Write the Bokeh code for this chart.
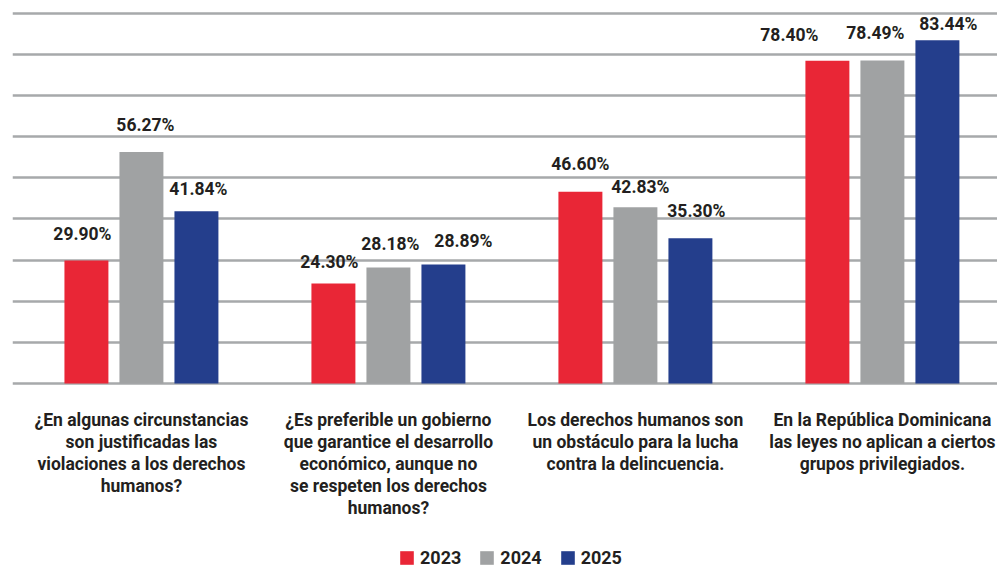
from bokeh.plotting import figure
from bokeh.models import (ColumnDataSource, Range1d, FixedTicker, Legend, LegendItem)
from bokeh.transform import dodge
from bokeh.core.properties import value
from bokeh.embed import file_html
from bokeh.resources import INLINE

# ---- data ----
categories = [
    "¿En algunas circunstancias\nson justificadas las\nviolaciones a los derechos\nhumanos?",
    "¿Es preferible un gobierno\nque garantice el desarrollo\neconómico, aunque no\nse respeten los derechos\nhumanos?",
    "Los derechos humanos son\nun obstáculo para la lucha\ncontra la delincuencia.",
    "En la República Dominicana\nlas leyes no aplican a ciertos\ngrupos privilegiados.",
]
years = ["2023", "2024", "2025"]
v2023 = [29.90, 24.30, 46.60, 78.40]
v2024 = [56.27, 28.18, 42.83, 78.49]
v2025 = [41.84, 28.89, 35.30, 83.44]
grid_ticks = [0, 10, 20, 30, 40, 50, 60, 70, 80, 90]

# ---- style ----
colors = ["#E92636", "#A0A2A3", "#243E8C"]
series = [v2023, v2024, v2025]
offsets = [-0.2227, 0.0, 0.2227]
# pixel nudges of the value labels (placement only)
label_dx = [[-4, -4, 0, -38], [4, 2, 5, -7], [2, 20, 6, 11]]
label_dy = [[-2, 3, -4, -2], [-3, 0, 4, -3], [2, 0, -3, 8]]
TXT = "#231F20"
FONT = "Roboto"

p = figure(width=997, height=568, output_backend="svg", toolbar_location=None,
           x_range=Range1d(-0.522, 3.466), y_range=Range1d(-44.96, 93.07),
           min_border_left=12, min_border_right=0, min_border_top=0, min_border_bottom=0)
p.outline_line_color = None
p.xgrid.visible = False
p.ygrid.ticker = FixedTicker(ticks=grid_ticks)
p.ygrid.grid_line_color = "#A7A9AB"
p.ygrid.grid_line_width = 2.4
p.yaxis.visible = False
p.xaxis.visible = False

xs = list(range(len(categories)))
items = []
for yr, vals, col, off, dx, dy in zip(years, series, colors, offsets, label_dx, label_dy):
    src = ColumnDataSource(dict(x=xs, top=vals, lab=[f"{v:.2f}%" for v in vals],
                                dx=dx, dy=[d - 24 for d in dy]))
    r = p.vbar(x=dodge("x", off, range=p.x_range), top="top", width=0.178, source=src,
               fill_color=col, line_color=None)
    p.text(x=dodge("x", off, range=p.x_range), y="top", text="lab", source=src,
           x_offset="dx", y_offset="dy", text_align="center", text_baseline="alphabetic",
           text_font=value(FONT), text_font_style="bold", text_font_size="17.5px", text_color=TXT)
    items.append(LegendItem(label=yr, renderers=[r]))

# category labels under the baseline
csrc = ColumnDataSource(dict(x=xs, y=[0] * len(xs), t=categories))
p.text(x="x", y="y", text="t", source=csrc, y_offset=27, text_align="center",
       text_baseline="top", text_font=value(FONT), text_font_style="bold",
       text_font_size="17.5px", text_line_height=1.1, text_color=TXT)

legend = Legend(items=items, orientation="horizontal", location=(386, 0),
                glyph_width=17, glyph_height=17, label_text_font=FONT,
                label_text_font_style="bold", label_text_font_size="18px",
                label_text_color=TXT, label_standoff=5, spacing=17, label_height=17,
                padding=0, margin=0, border_line_color=None, background_fill_alpha=0)
p.add_layout(legend)

open("out.html", "w").write(file_html(p, INLINE))
